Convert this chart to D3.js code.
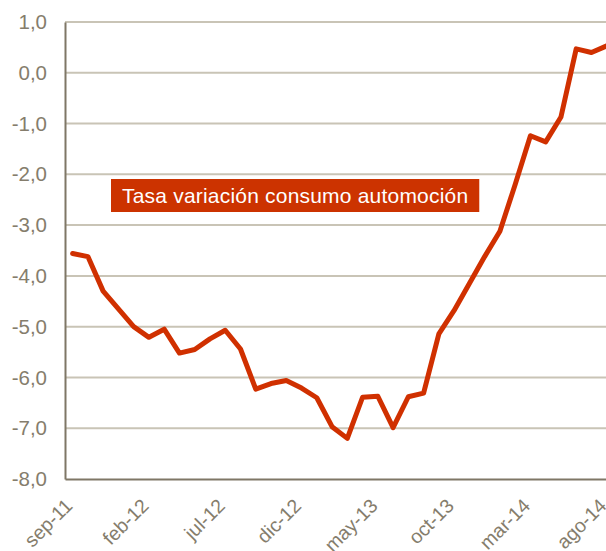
<!DOCTYPE html>
<html>
<head>
<meta charset="utf-8">
<script src="https://cdn.jsdelivr.net/npm/d3@7"></script>
<style>
  body { margin: 0; background: #fff; }
  text { font-family: 'Liberation Sans', Arial, sans-serif; }
</style>
</head>
<body>
<svg id="vis" width="606" height="551"></svg>
<script>
const svg = d3.select('#vis');
const width = +svg.attr('width');
const height = +svg.attr('height');

// months sep-11 .. ago-14
const months = [
  'sep-11', 'oct-11', 'nov-11', 'dic-11', 'ene-12', 'feb-12', 'mar-12', 'abr-12',
  'may-12', 'jun-12', 'jul-12', 'ago-12', 'sep-12', 'oct-12', 'nov-12', 'dic-12',
  'ene-13', 'feb-13', 'mar-13', 'abr-13', 'may-13', 'jun-13', 'jul-13', 'ago-13',
  'sep-13', 'oct-13', 'nov-13', 'dic-13', 'ene-14', 'feb-14', 'mar-14', 'abr-14',
  'may-14', 'jun-14', 'jul-14', 'ago-14'
];
const tasa = [
  -3.56, -3.62, -4.30, -4.65, -5.00, -5.21, -5.05, -5.52,
  -5.45, -5.24, -5.07, -5.44, -6.23, -6.12, -6.06, -6.21,
  -6.40, -6.97, -7.20, -6.39, -6.37, -6.99, -6.38, -6.31,
  -5.14, -4.68, -4.15, -3.62, -3.12, -2.20, -1.24, -1.36,
  -0.87, 0.47, 0.40, 0.53
];
const yTicks = [1, 0, -1, -2, -3, -4, -5, -6, -7, -8];
const labelMonths = ['sep-11', 'feb-12', 'jul-12', 'dic-12', 'may-13', 'oct-13', 'mar-14', 'ago-14'];
const seriesName = 'Tasa variación consumo automoción';

const margin = { top: 22, left: 65, bottom: 72 };
const plotBottom = height - margin.bottom; // 479
const step = 15.26;

const axisColor = '#7f7766';
const gridColor = '#c9c4b6';
const textColor = '#857d6c';
const red = '#d03000';

const x = d3
  .scaleBand()
  .domain(months)
  .range([margin.left, margin.left + step * months.length])
  .paddingInner(0)
  .paddingOuter(0);

const y = d3
  .scaleLinear()
  .domain([-8, 1])
  .range([plotBottom, margin.top]);

// gridlines
svg
  .append('g')
  .selectAll('line')
  .data(yTicks.filter(d => d !== -8))
  .enter()
  .append('line')
  .attr('x1', margin.left)
  .attr('x2', width)
  .attr('y1', d => y(d))
  .attr('y2', d => y(d))
  .attr('stroke', gridColor)
  .attr('stroke-width', 2);

// y axis
const yAxis = svg
  .append('g')
  .attr('transform', `translate(${margin.left},0)`)
  .call(d3.axisLeft(y).tickValues(yTicks).tickSize(0).tickPadding(18)
    .tickFormat(d => d3.format('.1f')(d).replace('.', ',').replace('−', '-')));
yAxis.select('.domain').attr('stroke', axisColor).attr('stroke-width', 2);
yAxis.selectAll('text')
  .attr('fill', textColor)
  .style('font-size', '20.5px')
  .style('font-family', "'Liberation Sans', Arial, sans-serif");

// x axis
const xAxis = svg
  .append('g')
  .attr('transform', `translate(0,${plotBottom})`)
  .call(d3.axisBottom(x).tickValues(labelMonths).tickSize(0).tickFormat(d => d));
xAxis.select('.domain').attr('stroke', axisColor).attr('stroke-width', 2);
xAxis.selectAll('text')
  .attr('fill', textColor)
  .style('font-size', '19.5px')
  .style('font-family', "'Liberation Sans', Arial, sans-serif")
  .style('text-anchor', 'end')
  .attr('dy', null)
  .attr('y', 0)
  .attr('transform', 'translate(1,28) rotate(-45)');

// series line
const line = d3
  .line()
  .x((d, i) => x(months[i]) + x.bandwidth() / 2)
  .y(d => y(d));

svg
  .append('path')
  .datum(tasa)
  .attr('d', line)
  .attr('fill', 'none')
  .attr('stroke', red)
  .attr('stroke-width', 5)
  .attr('stroke-linejoin', 'round')
  .attr('stroke-linecap', 'round');

// label box
const label = svg.append('g');
const labelText = label
  .append('text')
  .attr('x', 122)
  .attr('y', 203)
  .attr('fill', '#fff')
  .style('font-size', '21px')
  .style('letter-spacing', '0.2px')
  .text(seriesName);
const bb = labelText.node().getBBox();
label
  .insert('rect', 'text')
  .attr('x', 111)
  .attr('y', 179)
  .attr('width', bb.width + 22)
  .attr('height', 33)
  .attr('fill', '#cc3300');
</script>
</body>
</html>
